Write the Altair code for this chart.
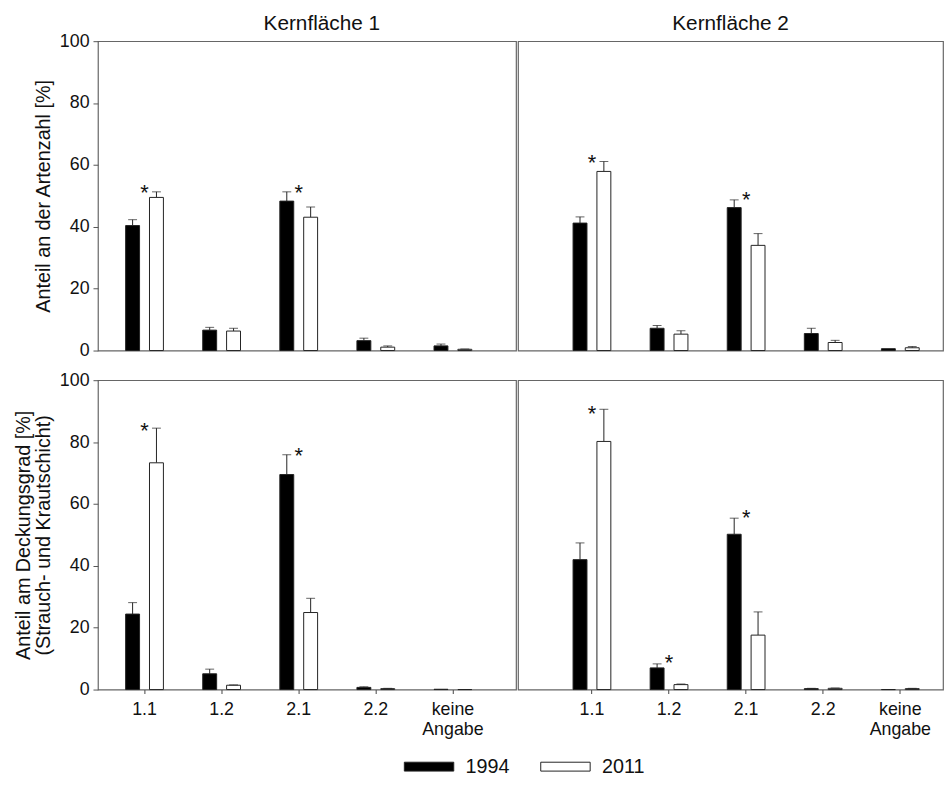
import altair as alt
import pandas as pd

categories = ["1.1", "1.2", "2.1", "2.2", "keine Angabe"]
years = ["1994", "2011"]

# Anteil an der Artenzahl [%] - Kernfläche 1
art_k1_1994 = [40.4, 6.6, 48.3, 3.2, 1.5]
art_k1_1994_se = [1.9, 0.9, 3.0, 0.8, 0.6]
art_k1_2011 = [49.5, 6.3, 43.1, 1.1, 0.4]
art_k1_2011_se = [1.8, 0.9, 3.3, 0.4, 0.1]
art_k1_star_cat = ["1.1", "2.1"]
art_k1_star_y = [52.6, 52.6]

# Anteil an der Artenzahl [%] - Kernfläche 2
art_k2_1994 = [41.2, 7.2, 46.2, 5.5, 0.6]
art_k2_1994_se = [2.0, 0.9, 2.5, 1.7, 0.0]
art_k2_2011 = [57.9, 5.3, 34.0, 2.6, 0.9]
art_k2_2011_se = [3.2, 1.1, 3.8, 0.7, 0.4]
art_k2_star_cat = ["1.1", "2.1"]
art_k2_star_y = [62.1, 50.2]

# Anteil am Deckungsgrad [%] - Kernfläche 1
dek_k1_1994 = [24.4, 5.1, 69.5, 0.7, 0.1]
dek_k1_1994_se = [3.7, 1.5, 6.4, 0.2, 0.0]
dek_k1_2011 = [73.3, 1.4, 24.9, 0.3, 0.0]
dek_k1_2011_se = [11.2, 0.1, 4.6, 0.1, 0.0]
dek_k1_star_cat = ["1.1", "2.1"]
dek_k1_star_y = [85.3, 77.2]

# Anteil am Deckungsgrad [%] - Kernfläche 2
dek_k2_1994 = [42.0, 7.0, 50.2, 0.3, 0.0]
dek_k2_1994_se = [5.4, 1.3, 5.2, 0.1, 0.0]
dek_k2_2011 = [80.2, 1.6, 17.6, 0.4, 0.3]
dek_k2_2011_se = [10.4, 0.2, 7.5, 0.1, 0.1]
dek_k2_star_cat = ["1.1", "1.2", "2.1"]
dek_k2_star_y = [90.6, 10.3, 57.1]

y_ticks = [0, 20, 40, 60, 80, 100]
title_top = [" ", "Anteil an der Artenzahl [%]"]
title_bottom = ["Anteil am Deckungsgrad [%]", "(Strauch- und Krautschicht)"]

FONT = "Liberation Sans"


def panel(v94, s94, v11, s11, star_cat, star_y, width, pad_outer, align,
          ytitle=None, show_x=False, title=None, title_dx=0, title_offset=0,
          title_dy=0):
    df = pd.DataFrame({
        "Kategorie": categories * 2,
        "Jahr": [years[0]] * len(categories) + [years[1]] * len(categories),
        "Wert": v94 + v11,
        "SE": s94 + s11,
    })
    stars = pd.DataFrame({"Kategorie": star_cat, "Stern": star_y})

    if show_x:
        xaxis = alt.Axis(
            title=None, labelAngle=0, domain=False, ticks=True, tickSize=4,
            tickColor="#444", labelFontSize=18, labelPadding=7,
            labelLineHeight=20, labelColor="#111", labelFont=FONT,
            labelExpr="datum.value == 'keine Angabe' ? ['keine', 'Angabe'] : datum.label",
        )
    else:
        xaxis = None
    xscale = alt.Scale(domain=categories, paddingInner=0.51,
                       paddingOuter=pad_outer, align=align)
    x = alt.X("Kategorie:N", sort=categories, scale=xscale, axis=xaxis)
    xoff = alt.XOffset("Jahr:N", sort=years,
                       scale=alt.Scale(domain=years, paddingInner=0.4167))

    if ytitle is not None:
        yaxis = alt.Axis(
            values=y_ticks, title=ytitle, grid=False, domain=False,
            tickSize=5, tickColor="#555", labelFontSize=18, labelPadding=4,
            labelColor="#111", labelFont=FONT, titleFont=FONT,
            titleFontSize=20, titleFontWeight="normal", titleColor="#111",
            titlePadding=6, titleLineHeight=20,
        )
    else:
        yaxis = None
    yscale = alt.Scale(domain=[0, 100], nice=False, zero=True)

    base = alt.Chart(df).transform_calculate(Oben="datum.Wert + datum.SE")

    bars = base.mark_bar(stroke="#222", strokeWidth=1).encode(
        x=x, xOffset=xoff,
        y=alt.Y("Wert:Q", scale=yscale, axis=yaxis),
        fill=alt.Fill(
            "Jahr:N", sort=years,
            scale=alt.Scale(domain=years, range=["#000000", "#ffffff"]),
            legend=alt.Legend(
                title=None, orient="none", direction="horizontal",
                legendX=325, legendY=724, padding=0,
                symbolType="M-5,-0.9H5V0.9H-5Z", symbolSize=100,
                symbolStrokeColor="#222", symbolStrokeWidth=1,
                labelFontSize=20, labelFont=FONT, labelColor="#111",
                labelOffset=27, columnPadding=29,
            ),
        ),
    )
    err = base.transform_filter("datum.SE > 0")
    rules = err.mark_rule(color="#222", strokeWidth=1).encode(
        x=x, xOffset=xoff,
        y=alt.Y("Wert:Q", scale=yscale, axis=yaxis),
        y2="Oben:Q",
    )
    caps = err.mark_tick(color="#222", thickness=1, size=9).encode(
        x=x, xOffset=xoff,
        y=alt.Y("Oben:Q", scale=yscale, axis=yaxis),
    )
    star = alt.Chart(stars).mark_text(
        text="*", fontSize=22, font=FONT, baseline="middle", dy=5, color="#111"
    ).encode(
        x=x,
        y=alt.Y("Stern:Q", scale=yscale, axis=yaxis),
    )
    props = dict(width=width, height=313)
    if title is not None:
        props["title"] = alt.TitleParams(
            text=title, fontSize=21, fontWeight="normal", font=FONT,
            color="#111", offset=title_offset, dx=title_dx, dy=title_dy,
            anchor="middle", frame="group",
        )
    return alt.layer(rules, bars, caps, star).properties(**props)


tl = panel(art_k1_1994, art_k1_1994_se, art_k1_2011, art_k1_2011_se,
           art_k1_star_cat, art_k1_star_y, 423, 0.4665, 0.385,
           ytitle=title_top, title="Kernfläche 1", title_dx=15,
           title_offset=0, title_dy=2)
tr = panel(art_k2_1994, art_k2_1994_se, art_k2_2011, art_k2_2011_se,
           art_k2_star_cat, art_k2_star_y, 430, 0.5115, 0.698,
           title="Kernfläche 2", title_offset=7)
bl = panel(dek_k1_1994, dek_k1_1994_se, dek_k1_2011, dek_k1_2011_se,
           dek_k1_star_cat, dek_k1_star_y, 423, 0.4665, 0.385,
           ytitle=title_bottom, show_x=True)
br = panel(dek_k2_1994, dek_k2_1994_se, dek_k2_2011, dek_k2_2011_se,
           dek_k2_star_cat, dek_k2_star_y, 430, 0.5115, 0.698,
           show_x=True)

chart = alt.vconcat(
    alt.hconcat(tl, tr, spacing=0),
    alt.hconcat(bl, br, spacing=0),
    spacing=10,
).configure(
    font=FONT,
    padding={"left": 5, "top": 0, "right": 0, "bottom": 5},
).configure_view(stroke="#666", strokeWidth=1.2)

chart.save("out.html", embed_options={"renderer": "svg", "actions": False})
